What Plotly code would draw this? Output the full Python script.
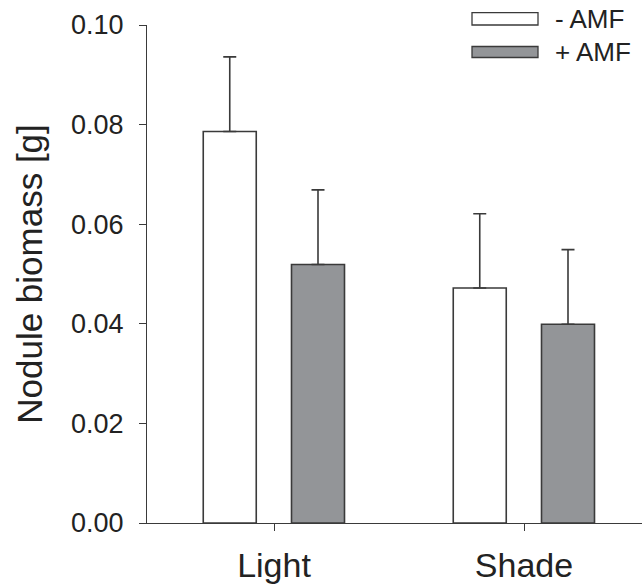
import plotly.graph_objects as go

# ---- data ----
categories = ["Light", "Shade"]
series_names = ["- AMF", "+ AMF"]
minus_amf = [0.0786, 0.0472]
plus_amf = [0.0519, 0.0399]
minus_amf_err = [0.0150, 0.0149]
plus_amf_err = [0.0150, 0.0150]
y_ticks = [0.00, 0.02, 0.04, 0.06, 0.08, 0.10]
y_ticktext = ["0.00", "0.02", "0.04", "0.06", "0.08", "0.10"]

# ---- style ----
W, H = 642, 588
ML, MR, MT, MB = 147, 0, 25, 65
FONT = "Liberation Sans, Arial, Helvetica, sans-serif"
EDGE = "#3a3a3a"
GREY = "#939598"
fills = ["white", GREY]
bar_w = 0.212
offsets = [-0.283, 0.070]

x_idx = list(range(len(categories)))

fig = go.Figure()
for name, vals, errs, fill, off in zip(series_names, [minus_amf, plus_amf],
                                       [minus_amf_err, plus_amf_err], fills, offsets):
    fig.add_trace(go.Bar(
        x=x_idx, y=vals, name=name, width=bar_w, offset=off,
        marker=dict(color=fill, line=dict(color=EDGE, width=1.6)),
        error_y=dict(type="data", array=errs, arrayminus=[0] * len(errs),
                     symmetric=False, color=EDGE, thickness=1.6, width=6.5),
        showlegend=False,
    ))

fig.update_layout(
    width=W, height=H,
    margin=dict(l=ML, r=MR, t=MT, b=MB),
    paper_bgcolor="white", plot_bgcolor="white",
    barmode="overlay",
    font=dict(family=FONT, color="#222222", size=27),
    xaxis=dict(
        range=[-0.508, 1.472], tickvals=x_idx, ticktext=categories,
        showline=True, linecolor=EDGE, linewidth=1.3,
        ticks="outside", ticklen=7, tickcolor=EDGE, tickwidth=1.3,
        tickfont=dict(size=34), ticklabelstandoff=5,
        showgrid=False, zeroline=False,
    ),
    yaxis=dict(
        range=[0, 0.10], tickvals=y_ticks, ticktext=y_ticktext,
        showline=True, linecolor=EDGE, linewidth=1.3,
        ticks="outside", ticklen=7, tickcolor=EDGE, tickwidth=1.3,
        tickfont=dict(size=27), ticklabelstandoff=10,
        title=dict(text="Nodule biomass [g]", font=dict(size=35), standoff=17),
        showgrid=False, zeroline=False,
    ),
)

# ---- custom legend (wide swatches like the original) ----
pw = W - ML - MR
ph = H - MT - MB
def px_x(p):
    return (p - ML) / pw
def px_y(p):
    return (H - MB - p) / ph

legend_rows = [(12.7, 25.0), (46.5, 57.5)]
for name, fill, (y0, y1) in zip(series_names, fills, legend_rows):
    fig.add_shape(type="rect", xref="paper", yref="paper",
                  x0=px_x(472), x1=px_x(538), y0=px_y(y1), y1=px_y(y0),
                  fillcolor=fill, line=dict(color=EDGE, width=1.3), layer="above")
    fig.add_annotation(xref="paper", yref="paper", x=px_x(553), y=px_y((y0 + y1) / 2),
                       text=name, showarrow=False, xanchor="left", yanchor="middle",
                       font=dict(size=26, family=FONT, color="#222222"))

fig.write_html("out.html", config={"displayModeBar": False},
               post_script="document.body.style.margin='0px';")
